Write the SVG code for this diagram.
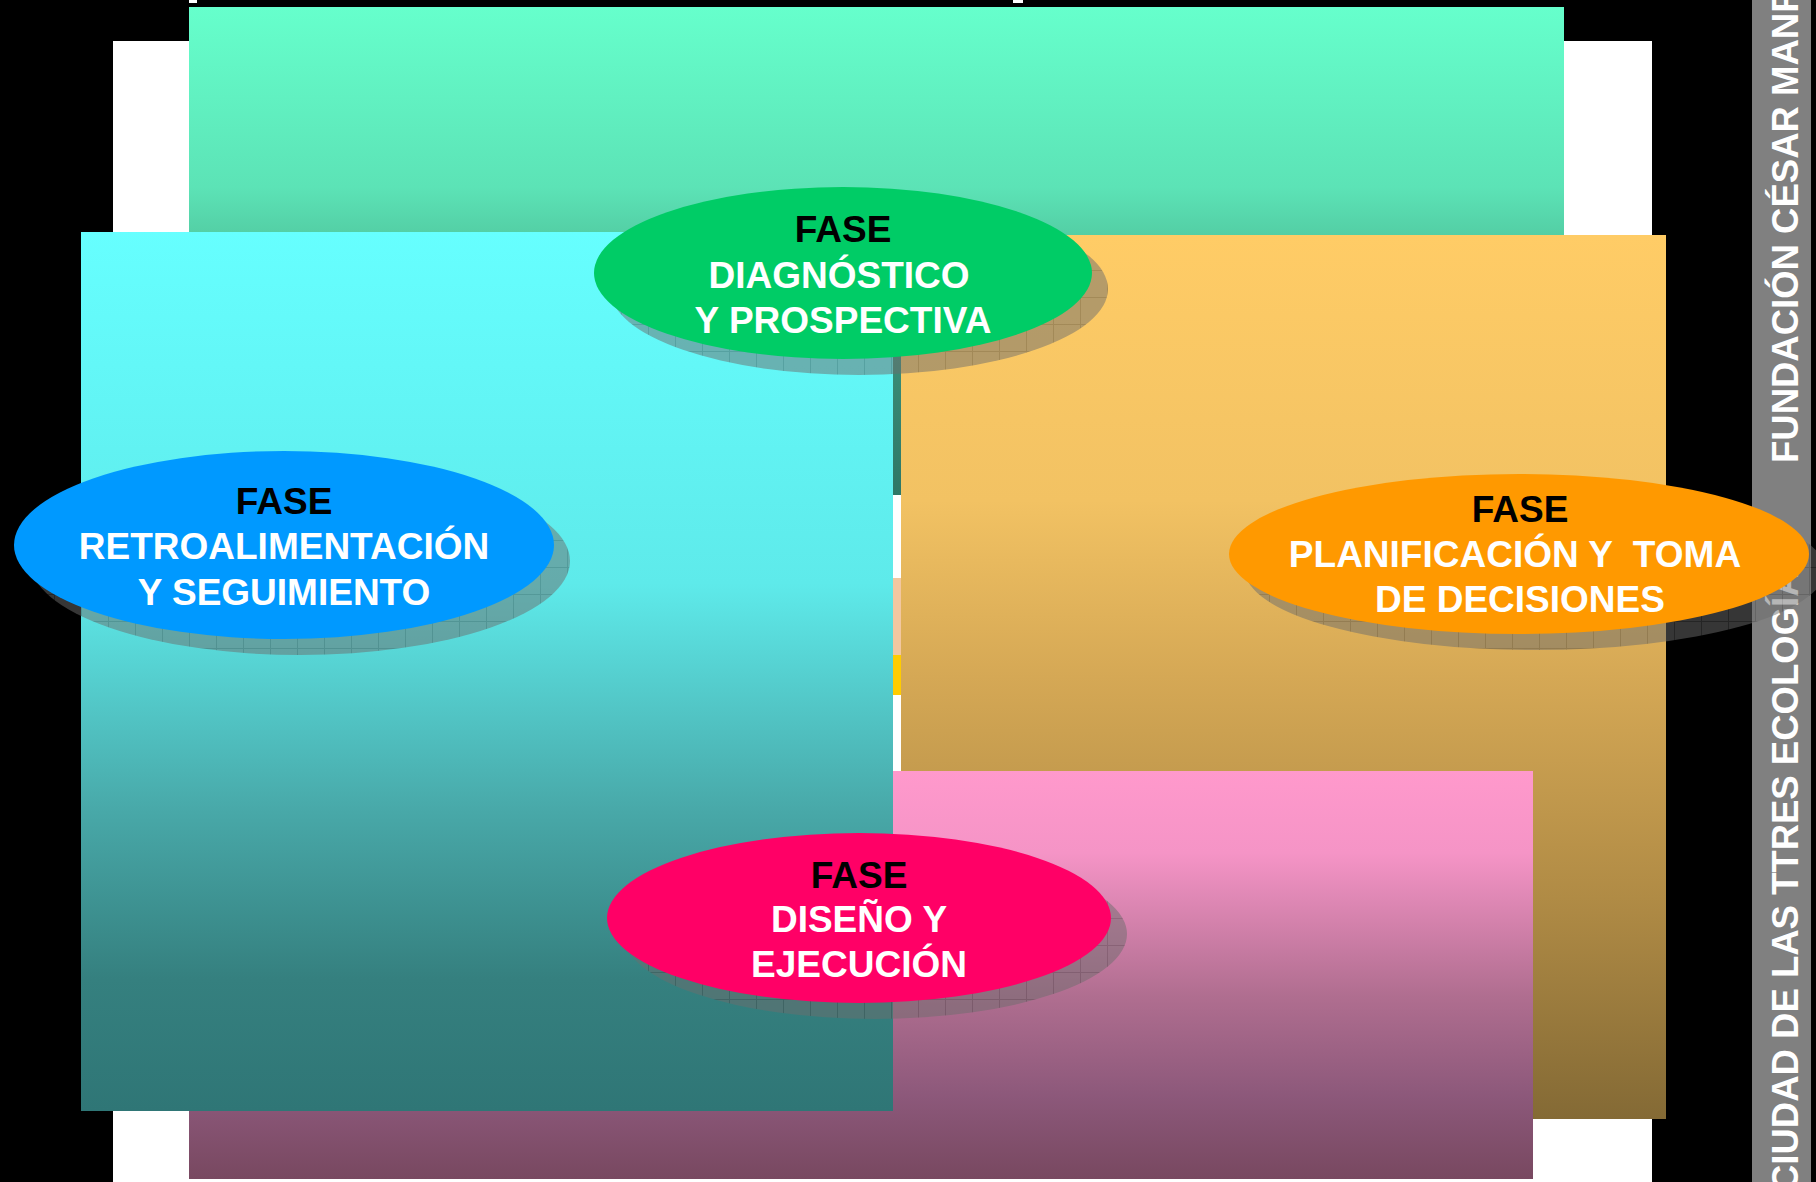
<svg xmlns="http://www.w3.org/2000/svg" width="1816" height="1182" viewBox="0 0 1816 1182">
  <defs>
    <linearGradient id="gMint" x1="0" y1="0" x2="0" y2="1">
      <stop offset="0" stop-color="#66FFCC"/>
      <stop offset="0.37" stop-color="#5CE3B6"/>
      <stop offset="0.46" stop-color="#54D0A6"/>
      <stop offset="0.72" stop-color="#3A8D77"/>
      <stop offset="1" stop-color="#2E7766"/>
    </linearGradient>
    <linearGradient id="gCyan" x1="0" y1="0" x2="0" y2="1">
      <stop offset="0" stop-color="#66FFFF"/>
      <stop offset="0.4" stop-color="#5EEAEA"/>
      <stop offset="0.66" stop-color="#48A8A8"/>
      <stop offset="0.85" stop-color="#35807F"/>
      <stop offset="1" stop-color="#2F7676"/>
    </linearGradient>
    <linearGradient id="gTan" x1="0" y1="0" x2="0" y2="1">
      <stop offset="0" stop-color="#FFCC66"/>
      <stop offset="0.3" stop-color="#F2C263"/>
      <stop offset="0.5" stop-color="#D5A855"/>
      <stop offset="0.75" stop-color="#B08B45"/>
      <stop offset="1" stop-color="#846A35"/>
    </linearGradient>
    <linearGradient id="gPink" x1="0" y1="0" x2="0" y2="1">
      <stop offset="0" stop-color="#FF99CC"/>
      <stop offset="0.2" stop-color="#F594C6"/>
      <stop offset="0.55" stop-color="#B06E90"/>
      <stop offset="0.8" stop-color="#8C587A"/>
      <stop offset="1" stop-color="#784860"/>
    </linearGradient>
    <!-- textured drop shadow: grey fill with a faint grid -->
    <pattern id="shadowGrid" width="27" height="27" patternUnits="userSpaceOnUse">
      <rect width="27" height="27" fill="#6C6C6C"/>
      <path d="M0 0.5H27M0.5 0V27" stroke="#4A4A4A" stroke-width="1"/>
    </pattern>
  </defs>
  <style>
    .shadow { fill: url(#shadowGrid); opacity: 0.5; }
    .lbl { font-family: "Liberation Sans", Arial, sans-serif; font-weight: bold; font-size: 37px; text-anchor: middle; }
    .k { fill: #000000; }
    .w { fill: #FFFFFF; }
    .side { font-family: "Liberation Sans", Arial, sans-serif; font-weight: bold; font-size: 36.5px; fill: #FFFFFF; }
  </style>

  <!-- background -->
  <rect x="0" y="0" width="1816" height="1182" fill="#000000"/>
  <rect x="189" y="0" width="8" height="3" fill="#FFFFFF"/>
  <rect x="1013" y="0" width="10" height="3" fill="#FFFFFF"/>
  <rect x="113" y="41" width="1539" height="1141" fill="#FFFFFF"/>

  <!-- coloured panels -->
  <rect x="189" y="7" width="1375" height="488" fill="url(#gMint)"/>
  <rect x="893" y="578" width="9" height="77" fill="#F2C7A0"/>
  <rect x="893" y="655" width="9" height="40" fill="#FFCC00"/>
  <rect x="901" y="235" width="765" height="884" fill="url(#gTan)"/>
  <rect x="189" y="771" width="1344" height="408" fill="url(#gPink)"/>
  <rect x="81" y="232" width="812" height="879" fill="url(#gCyan)"/>

  <!-- vertical side band -->
  <rect x="1752" y="0" width="59" height="1182" fill="#808080"/>
  <text class="side" transform="translate(1798,1191) rotate(-90)">CIUDAD DE LAS TTRES ECOLOGÍAS</text>
  <text class="side" transform="translate(1798,463) rotate(-90)">FUNDACIÓN CÉSAR MANRIQUE</text>

  <g id="connectors"/>

  <g id="fase-diagnostico">
    <ellipse class="shadow" cx="859" cy="289" rx="249" ry="86"/>
    <ellipse cx="843" cy="273" rx="249" ry="86" fill="#00CC66"/>
    <text class="lbl k" x="843" y="242">FASE</text>
    <text class="lbl w" x="839" y="288">DIAGNÓSTICO</text>
    <text class="lbl w" x="843" y="333">Y PROSPECTIVA</text>
  </g>

  <g id="fase-retroalimentacion">
    <ellipse class="shadow" cx="300" cy="561" rx="270" ry="94"/>
    <ellipse cx="284" cy="545" rx="270" ry="94" fill="#0099FF"/>
    <text class="lbl k" x="284" y="514">FASE</text>
    <text class="lbl w" x="284" y="559">RETROALIMENTACIÓN</text>
    <text class="lbl w" x="284" y="605">Y SEGUIMIENTO</text>
  </g>

  <g id="fase-planificacion">
    <ellipse class="shadow" cx="1535" cy="570" rx="290" ry="80"/>
    <ellipse cx="1519" cy="554" rx="290" ry="80" fill="#FF9900"/>
    <text class="lbl k" x="1520" y="522">FASE</text>
    <text class="lbl w" x="1515" y="567" xml:space="preserve">PLANIFICACIÓN Y  TOMA</text>
    <text class="lbl w" x="1520" y="612">DE DECISIONES</text>
  </g>

  <g id="fase-diseno">
    <ellipse class="shadow" cx="875" cy="934" rx="252" ry="85"/>
    <ellipse cx="859" cy="918" rx="252" ry="85" fill="#FF0066"/>
    <text class="lbl k" x="859" y="888">FASE</text>
    <text class="lbl w" x="859" y="932">DISEÑO Y</text>
    <text class="lbl w" x="859" y="977">EJECUCIÓN</text>
  </g>
</svg>
